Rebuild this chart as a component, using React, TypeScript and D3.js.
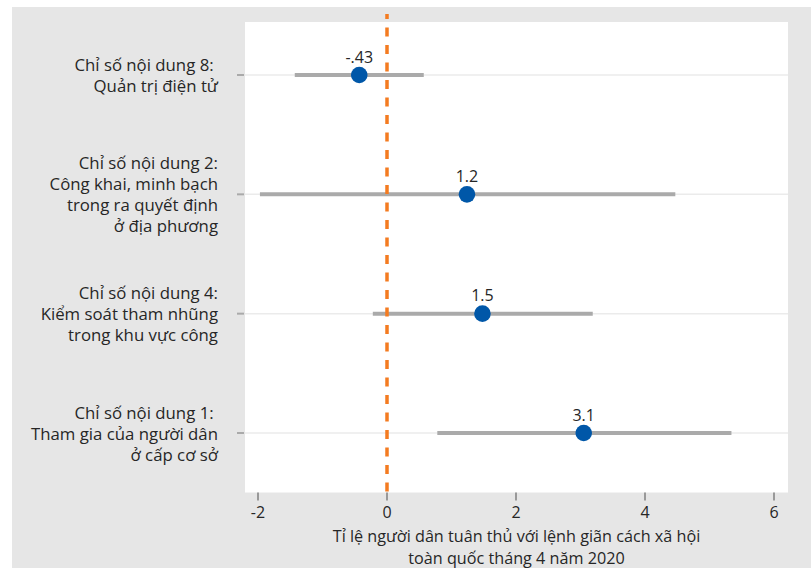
import React from "react";
import * as d3 from "d3";

const categories: string[][] = [
  ["Chỉ số nội dung 8:\u00a0", "Quản trị điện tử"],
  ["Chỉ số nội dung 2:", "Công khai, minh bạch", "trong ra quyết định", "ở địa phương"],
  ["Chỉ số nội dung 4:", "Kiểm soát tham nhũng", "trong khu vực công"],
  ["Chỉ số nội dung 1:\u00a0", "Tham gia của người dân", "ở cấp cơ sở"],
];
const estimates = [-0.43, 1.24, 1.48, 3.05];
const estimateLabels = ["-.43", "1.2", "1.5", "3.1"];
const ciLow = [-1.43, -1.97, -0.22, 0.78];
const ciHigh = [0.57, 4.47, 3.19, 5.34];
const xTicks = [-2, 0, 2, 4, 6];
const xTitle = ["Tỉ lệ người dân tuân thủ với lệnh giãn cách xã hội", "toàn quốc tháng 4 năm 2020"];

const W = 811;
const H = 568;
const plot = { left: 245, right: 788, top: 22, bottom: 492.5 };
const FONT = "'Open Sans', sans-serif";
const TEXT = "#262626";

export default function App() {
  const x = d3.scaleLinear().domain([-2, 6]).range([258, 774]);
  const y = d3
    .scalePoint<number>()
    .domain(d3.range(categories.length))
    .range([75, 433]);
  const lineH = 21;

  return (
    <svg
      width={W}
      height={H}
      style={{ position: "absolute", left: 0, top: 0, display: "block" }}
      fontFamily={FONT}
    >
      <rect x={0} y={0} width={W} height={H} fill="#ffffff" />
      <rect x={12} y={7} width={W - 12} height={H - 7} fill="#e6e6e6" />
      <rect
        x={plot.left}
        y={plot.top}
        width={plot.right - plot.left}
        height={plot.bottom - plot.top}
        fill="#ffffff"
      />
      {categories.map((_, i) => (
        <g key={"g" + i}>
          <line
            x1={plot.left}
            x2={plot.right}
            y1={y(i)!}
            y2={y(i)!}
            stroke="#ebebeb"
            strokeWidth={1.5}
          />
          <line x1={237} x2={244} y1={y(i)!} y2={y(i)!} stroke="#aaaaaa" strokeWidth={2} />
        </g>
      ))}
      {categories.map((lines, i) => {
        const start = y(i)! - ((lines.length - 1) * lineH) / 2;
        return (
          <text key={"l" + i} x={218} textAnchor="end" fontSize={16.8} fill={TEXT}>
            {lines.map((t, j) => (
              <tspan key={j} x={218} y={start + j * lineH + 6.5}>
                {t}
              </tspan>
            ))}
          </text>
        );
      })}
      {categories.map((_, i) => (
        <line
          key={"ci" + i}
          x1={x(ciLow[i])}
          x2={x(ciHigh[i])}
          y1={y(i)!}
          y2={y(i)!}
          stroke="#aaaaaa"
          strokeWidth={4}
        />
      ))}
      <line
        x1={x(0)}
        x2={x(0)}
        y1={14}
        y2={plot.bottom}
        stroke="#f47b20"
        strokeWidth={3.5}
        strokeDasharray="9 8.5"
        strokeDashoffset={4}
      />
      {categories.map((_, i) => (
        <g key={"p" + i}>
          <circle cx={x(estimates[i])} cy={y(i)!} r={8.3} fill="#0057a8" />
          <text
            x={x(estimates[i])}
            y={y(i)! - 12.5}
            textAnchor="middle"
            fontSize={16}
            fill={TEXT}
          >
            {estimateLabels[i]}
          </text>
        </g>
      ))}
      {xTicks.map((t) => (
        <g key={"t" + t}>
          <line
            x1={x(t)}
            x2={x(t)}
            y1={plot.bottom}
            y2={plot.bottom + 8}
            stroke="#999999"
            strokeWidth={2}
          />
          <text x={x(t)} y={517.5} textAnchor="middle" fontSize={16} fill={TEXT}>
            {t}
          </text>
        </g>
      ))}
      {xTitle.map((t, j) => (
        <text
          key={"xt" + j}
          x={(plot.left + plot.right) / 2}
          y={541.5 + j * 22}
          textAnchor="middle"
          fontSize={16.2}
          fill={TEXT}
        >
          {t}
        </text>
      ))}
    </svg>
  );
}
